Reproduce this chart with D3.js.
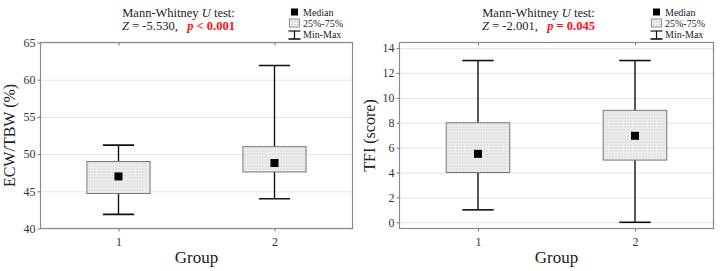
<!DOCTYPE html>
<html>
<head>
<meta charset="utf-8">
<script src="https://cdn.jsdelivr.net/npm/d3@7"></script>
<style>
    body { margin: 0; background: #fff; }
    svg, svg text { font-family: "Liberation Serif", "Times New Roman", serif; }
    .grid line { stroke: #e4e4e4; stroke-width: 1; }
    .grid path { stroke-width: 0; }
    .axis text { fill: #333; font-size: 12px; font-family: "Liberation Serif", serif; }
    .axis line { stroke: #777; }
    .axis path { stroke-width: 0; }
</style>
</head>
<body>
<svg width="722" height="271"></svg>
<script>

    // data
    var groups = ["1", "2"];

    var ecwMin = [41.9, 44.0],
        ecwQ1 = [44.7, 47.6],
        ecwMed = [47.0, 48.8],
        ecwQ3 = [49.0, 51.0],
        ecwMax = [51.2, 61.9];
    var ecwTicks = [40, 45, 50, 55, 60, 65];

    var tfiMin = [1, 0],
        tfiQ1 = [4, 5],
        tfiMed = [5.5, 6.95],
        tfiQ3 = [8, 9],
        tfiMax = [13, 13];
    var tfiTicks = [0, 2, 4, 6, 8, 10, 12, 14];

    var svg = d3.select("svg");

    // stipple fill for the 25%-75% boxes
    var pat = svg.append("defs").append("pattern")
        .attr("id", "dots")
        .attr("width", 3).attr("height", 3)
        .attr("patternUnits", "userSpaceOnUse");
    pat.append("rect").attr("width", 3).attr("height", 3).attr("fill", "#f4f4f4");
    pat.append("rect").attr("x", 0).attr("y", 0).attr("width", 1).attr("height", 1).attr("fill", "#b4b4b4");
    pat.append("rect").attr("x", 1.5).attr("y", 1.5).attr("width", 1).attr("height", 1).attr("fill", "#c8c8c8");

    function panel(opt) {
        var g = svg.append("g").attr("transform", "translate(" + opt.left + "," + opt.top + ")");
        var width = opt.width, height = opt.height;

        var x = d3.scalePoint().domain(groups).range([0, width]).padding(0.5);
        var y = d3.scaleLinear().domain(opt.domain).range([height, 0]);
        var step = x.step();

        // gridlines
        g.append("g")
            .attr("class", "grid")
            .call(d3.axisLeft(y).tickValues(opt.ticks).tickSize(-width).tickFormat(""));

        // y axis
        g.append("g")
            .attr("class", "axis")
            .call(d3.axisLeft(y).tickValues(opt.ticks).tickSize(3).tickPadding(2));

        // x axis
        g.append("g")
            .attr("class", "axis")
            .attr("transform", "translate(0," + height + ")")
            .call(d3.axisBottom(x).tickSize(3).tickPadding(6));

        g.append("g")
            .attr("class", "axis")
            .call(d3.axisTop(x).tickSize(-3).tickFormat(""));

        g.selectAll(".axis").attr("font-family", null);

        // frame
        g.append("rect")
            .attr("width", width).attr("height", height)
            .attr("fill", "none").attr("stroke", "#8a8a8a").attr("stroke-width", 1.2);

        var rows = groups.map(function (k, i) {
            return { k: k, min: opt.min[i], q1: opt.q1[i], med: opt.med[i], q3: opt.q3[i], max: opt.max[i] };
        });

        var bw = step * 0.405, cw = step * 0.2;
        var b = g.selectAll(".box").data(rows).enter().append("g").attr("class", "box");

        b.append("line")
            .attr("x1", function (d) { return x(d.k); }).attr("x2", function (d) { return x(d.k); })
            .attr("y1", function (d) { return y(d.min); }).attr("y2", function (d) { return y(d.max); })
            .attr("stroke", "#111").attr("stroke-width", 1.4);
        ["min", "max"].forEach(function (f) {
            b.append("line")
                .attr("x1", function (d) { return x(d.k) - cw / 2; }).attr("x2", function (d) { return x(d.k) + cw / 2; })
                .attr("y1", function (d) { return y(d[f]); }).attr("y2", function (d) { return y(d[f]); })
                .attr("stroke", "#111").attr("stroke-width", 1.6);
        });
        b.append("rect")
            .attr("x", function (d) { return x(d.k) - bw / 2; })
            .attr("y", function (d) { return y(d.q3); })
            .attr("width", bw)
            .attr("height", function (d) { return y(d.q1) - y(d.q3); })
            .attr("fill", "url(#dots)").attr("stroke", "#777").attr("stroke-width", 1);
        b.append("rect")
            .attr("x", function (d) { return x(d.k) - 4; })
            .attr("y", function (d) { return y(d.med) - 4; })
            .attr("width", 8).attr("height", 8)
            .attr("fill", "#000");

        // axis titles
        g.append("text")
            .attr("transform", "translate(" + (-opt.ylabOff) + "," + (height / 2) + ") rotate(-90)")
            .attr("text-anchor", "middle")
            .attr("font-size", 16).attr("fill", "#222")
            .text(opt.ylab);
        g.append("text")
            .attr("x", width / 2).attr("y", height + 34)
            .attr("text-anchor", "middle")
            .attr("font-size", 17).attr("fill", "#222")
            .text("Group");

        // test result
        var t = g.append("text").attr("text-anchor", "middle").attr("font-size", 12.5).attr("fill", "#222");
        var t1 = t.append("tspan").attr("x", opt.titleX).attr("y", -25.5);
        t1.append("tspan").text("Mann-Whitney ");
        t1.append("tspan").attr("font-style", "italic").text("U");
        t1.append("tspan").text(" test:");
        var t2 = t.append("tspan").attr("x", opt.titleX).attr("y", -12.5);
        t2.append("tspan").attr("font-style", "italic").text("Z");
        t2.append("tspan").text(" = " + opt.z + ",\u00a0\u00a0\u00a0");
        t2.append("tspan").attr("fill", "#ff1010").attr("font-weight", "bold").attr("font-style", "italic").text("p");
        t2.append("tspan").attr("fill", "#ff1010").attr("font-weight", "bold").text(" " + opt.p);

        // legend
        var lg = g.append("g").attr("transform", "translate(" + opt.legX + ",-30.5)");
        lg.append("rect").attr("x", -3.5).attr("y", -3.5).attr("width", 7).attr("height", 7).attr("fill", "#000");
        lg.append("rect").attr("x", -5).attr("y", 7).attr("width", 10).attr("height", 8)
            .attr("fill", "url(#dots)").attr("stroke", "#777").attr("stroke-width", 0.8);
        lg.append("line").attr("x1", 0).attr("x2", 0).attr("y1", 19).attr("y2", 27).attr("stroke", "#111").attr("stroke-width", 1.2);
        lg.append("line").attr("x1", -6).attr("x2", 6).attr("y1", 19).attr("y2", 19).attr("stroke", "#111").attr("stroke-width", 1.2);
        lg.append("line").attr("x1", -6).attr("x2", 6).attr("y1", 27).attr("y2", 27).attr("stroke", "#111").attr("stroke-width", 1.6);
        lg.selectAll("text").data(["Median", "25%-75%", "Min-Max"]).enter().append("text")
            .attr("x", 8.5).attr("y", function (d, i) { return 3.5 + i * 11; })
            .attr("font-size", 10).attr("fill", "#222")
            .text(function (d) { return d; });
    }

    panel({
        left: 40.5, top: 42.5, width: 312, height: 186,
        domain: [40, 65], ticks: ecwTicks,
        min: ecwMin, q1: ecwQ1, med: ecwMed, q3: ecwQ3, max: ecwMax,
        ylab: "ECW/TBW (%)", ylabOff: 26,
        titleX: 138, z: "-5.530", p: "< 0.001", legX: 254
    });

    panel({
        left: 399.5, top: 42.5, width: 314, height: 186,
        domain: [-0.5, 14.45], ticks: tfiTicks,
        min: tfiMin, q1: tfiQ1, med: tfiMed, q3: tfiQ3, max: tfiMax,
        ylab: "TFI (score)", ylabOff: 25,
        titleX: 139, z: "-2.001", p: "= 0.045", legX: 257
    });

</script>
</body>
</html>
